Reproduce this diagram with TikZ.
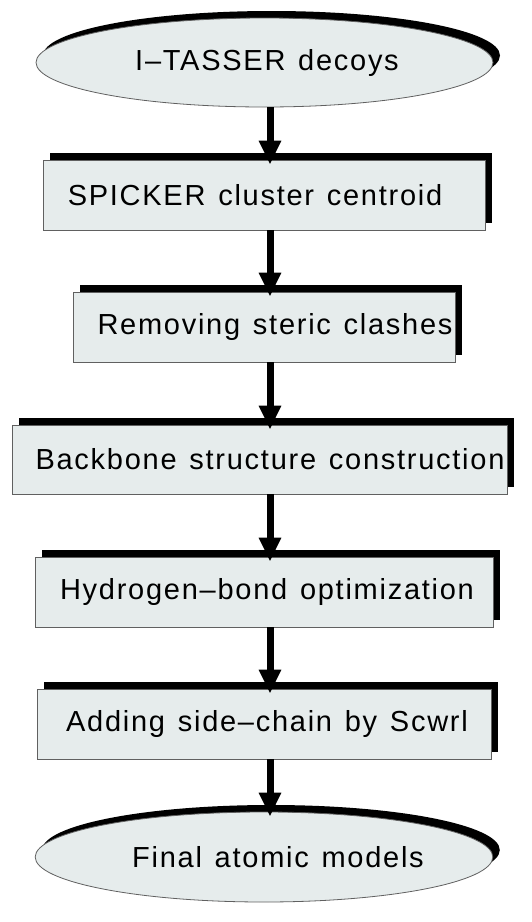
\documentclass[tikz,border=0pt]{standalone}
\usepackage{fontspec}
\setmainfont{Liberation Sans}[LetterSpace=6,WordSpace=1.3]
\usetikzlibrary{shapes.geometric,shadows,arrows.meta}
\definecolor{boxfill}{HTML}{E6ECEC}
\definecolor{boxline}{HTML}{606060}
\begin{document}
\begin{tikzpicture}[x=1pt,y=-1pt,
  stepbox/.style={rectangle, draw=boxline, line width=0.8pt, fill=boxfill,
    minimum height=70pt, inner sep=2pt, font=\fontsize{29}{34}\selectfont,
    drop shadow={shadow xshift=7pt, shadow yshift=7pt, fill=black, opacity=1}},
  endnode/.style={stepbox, ellipse, minimum height=89pt},
  flow/.style={line width=7pt, -{Triangle[width=21pt,length=24pt]}, shorten >=-5pt}]
  \useasboundingbox (0,0) rectangle (532,922);

  \node[endnode, minimum width=457pt] (decoys) at (264.5,62.5) {\hspace*{5pt}I–TASSER decoys};
  \node[stepbox, minimum width=442pt] (spicker) at (264,195) {SPICKER cluster centroid\hspace*{18pt}};
  \node[stepbox, minimum width=382pt] (clash) at (264,327) {\hspace*{22pt}Removing steric clashes};
  \node[stepbox, minimum width=495pt, minimum height=69pt] (backbone) at (259.5,459.5) {\hspace*{21pt}Backbone structure construction};
  \node[stepbox, minimum width=458pt] (hbond) at (264,592) {\hspace*{6pt}Hydrogen–bond optimization};
  \node[stepbox, minimum width=454pt] (scwrl) at (264,724) {\hspace*{6pt}Adding side–chain by Scwrl};
  \node[endnode, minimum width=456pt, minimum height=90pt] (final) at (264,857) {\hspace*{28pt}Final atomic models};

  \coordinate (ax) at (270,0); % arrow column
  \draw[flow] (decoys.south -| ax) -- (spicker.north -| ax);
  \draw[flow] (spicker.south -| ax) -- (clash.north -| ax);
  \draw[flow] (clash.south -| ax) -- (backbone.north -| ax);
  \draw[flow] (backbone.south -| ax) -- (hbond.north -| ax);
  \draw[flow] (hbond.south -| ax) -- (scwrl.north -| ax);
  \draw[flow] (scwrl.south -| ax) -- (final.north -| ax);

\end{tikzpicture}
\end{document}
